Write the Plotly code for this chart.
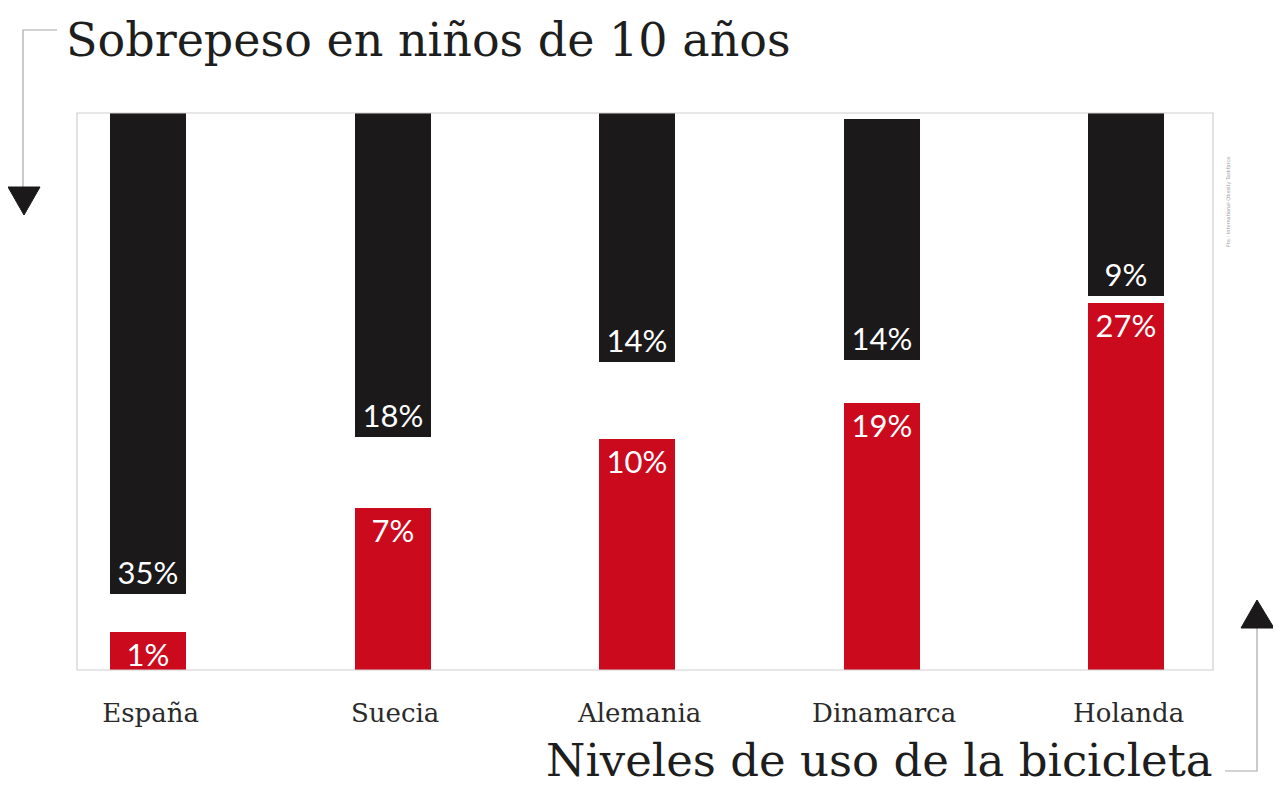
import plotly.graph_objects as go

# ---- data ----
paises = ["España", "Suecia", "Alemania", "Dinamarca", "Holanda"]
sobrepeso_pct = [35, 18, 14, 14, 9]          # % overweight 10-year-olds
bici_pct = [1, 7, 10, 19, 27]                # % bicycle use
# bar extents as drawn in the infographic (not to scale), in % of plot height
sobrepeso_barra_inicio = [100, 100, 100, 98.9, 100]
sobrepeso_barra_fin = [13.6, 41.8, 55.3, 55.7, 67.1]
bici_barra = [6.8, 29.1, 41.5, 47.9, 65.9]

NEGRO = "#1b191a"
ROJO = "#cc0a1e"
LABEL_FONT = dict(family="Lato, sans-serif", size=31, color="white")
SERIF = "DejaVu Serif, Liberation Serif, serif"

OFF = 8  # page body margin
W, H = 1281 - OFF, 786 - OFF
L, R, T, B = 77 - OFF, 68, 113 - OFF, 116
PW, PH = W - L - R, H - T - B


def px(x):
    return (x - OFF - L) / PW


def py(y):
    return (H - B - (y - OFF)) / PH


fig = go.Figure()

fig.add_trace(go.Bar(
    x=paises,
    base=sobrepeso_barra_inicio,
    y=[f - i for f, i in zip(sobrepeso_barra_fin, sobrepeso_barra_inicio)],
    marker=dict(color=NEGRO, line=dict(width=0)),
    width=0.31,
    offset=-0.165,
    text=[f"{v}%" for v in sobrepeso_pct],
    textposition="inside",
    insidetextanchor="end",
    constraintext="none",
    textfont=LABEL_FONT,
    hoverinfo="skip",
    showlegend=False,
))

fig.add_trace(go.Bar(
    x=paises,
    y=bici_barra,
    marker=dict(color=ROJO, line=dict(width=0)),
    width=0.31,
    offset=-0.165,
    text=[f"{v}%" for v in bici_pct],
    textposition="inside",
    insidetextanchor="end",
    constraintext="none",
    textfont=LABEL_FONT,
    hoverinfo="skip",
    showlegend=False,
))

line_col = "#a8a8a8"
shapes = [
    # plot frame
    dict(type="rect", xref="paper", yref="paper", x0=0, x1=1, y0=0, y1=1,
         line=dict(color="#cfcfcf", width=1.2), layer="above"),
    # top-left connector
    dict(type="path", xref="paper", yref="paper",
         path=f"M {px(57)} {py(30)} L {px(23)} {py(30)} L {px(23)} {py(190)}",
         line=dict(color=line_col, width=1.2)),
    dict(type="path", xref="paper", yref="paper",
         path=f"M {px(8)} {py(187)} L {px(40)} {py(187)} L {px(24)} {py(215)} Z",
         fillcolor=NEGRO, line=dict(color=NEGRO, width=1)),
    # bottom-right connector
    dict(type="path", xref="paper", yref="paper",
         path=f"M {px(1225)} {py(771)} L {px(1257)} {py(771)} L {px(1257)} {py(625)}",
         line=dict(color=line_col, width=1.2)),
    dict(type="path", xref="paper", yref="paper",
         path=f"M {px(1241)} {py(628)} L {px(1274)} {py(628)} L {px(1257)} {py(600)} Z",
         fillcolor=NEGRO, line=dict(color=NEGRO, width=1)),
]

annotations = [
    dict(text="Sobrepeso en niños de 10 años", xref="paper", yref="paper",
         x=px(64), y=py(40), xanchor="left", yanchor="middle", showarrow=False,
         font=dict(family=SERIF, size=46, color="#1e1e1e")),
    dict(text="Niveles de uso de la bicicleta", xref="paper", yref="paper",
         x=px(1215), y=py(760), xanchor="right", yanchor="middle", showarrow=False,
         font=dict(family=SERIF, size=45, color="#1e1e1e")),
    dict(text="Fte.: International Obesity Taskforce", xref="paper", yref="paper",
         x=px(1229), y=py(202), xanchor="center", yanchor="middle", showarrow=False,
         textangle=-90, font=dict(family="DejaVu Sans, sans-serif", size=5, color="#999999")),
]

fig.update_layout(
    width=W, height=H,
    margin=dict(l=L, r=R, t=T, b=B, pad=0),
    paper_bgcolor="white", plot_bgcolor="white",
    barmode="overlay",
    bargap=0,
    shapes=shapes,
    annotations=annotations,
    xaxis=dict(
        type="category", range=[-0.301, 4.345],
        showgrid=False, zeroline=False, showline=False,
        ticks="outside", ticklen=20, tickcolor="rgba(0,0,0,0)",
        tickfont=dict(family=SERIF, size=26, color="#2a2a2a"),
        fixedrange=True,
    ),
    yaxis=dict(
        range=[0, 100], showgrid=False, zeroline=False, showline=False,
        showticklabels=False, ticks="", fixedrange=True,
    ),
)

fig.write_html("out.html", config={"displayModeBar": False})
